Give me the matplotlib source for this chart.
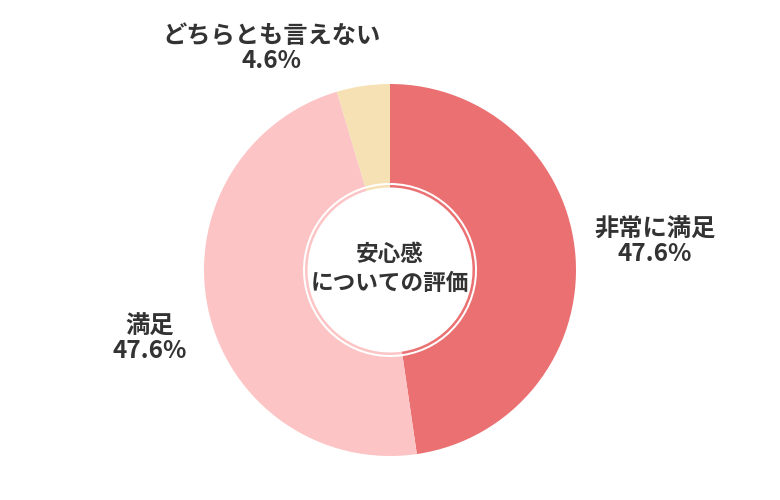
import matplotlib
matplotlib.use("Agg")
import matplotlib.pyplot as plt

plt.rcParams['font.family'] = ['Noto Sans CJK JP', 'DejaVu Sans']

labels = ['非常に満足', '満足', 'どちらとも言えない']
values = [47.6, 47.6, 4.6]
colors = ['#eb7072', '#fdc4c5', '#f5e1b3']
center_title = '安心感\nについての評価'

fig = plt.figure(figsize=(7.8, 5.0), dpi=100)
ax = fig.add_axes([0, 0, 1, 1])

cx, cy = 390, 230
# main ring
ax.pie(values, colors=colors, startangle=90, counterclock=False,
       radius=186, center=(cx, cy),
       wedgeprops=dict(width=99, linewidth=0), frame=True)
# thin inner ring
ax.pie(values, colors=colors, startangle=90, counterclock=False,
       radius=85, center=(cx, cy),
       wedgeprops=dict(width=2.5, linewidth=0), frame=True)
ax.set_xlim(0, 780)
ax.set_ylim(0, 500)
ax.set_aspect('equal')
ax.axis('off')

txt = '#333333'
label_pos = [(655, 258), (150, 161), (271, 451)]
for lab, v, (x, y) in zip(labels, values, label_pos):
    ax.text(x, y, f'{lab}\n{v}%', ha='center', va='center', fontsize=17.5,
            fontweight='bold', color=txt, linespacing=1.05)

ax.text(cx, cy + 1, center_title, ha='center', va='center', fontsize=16.3,
        fontweight='bold', color=txt, linespacing=1.3)

fig.savefig('out.png', dpi=100)
